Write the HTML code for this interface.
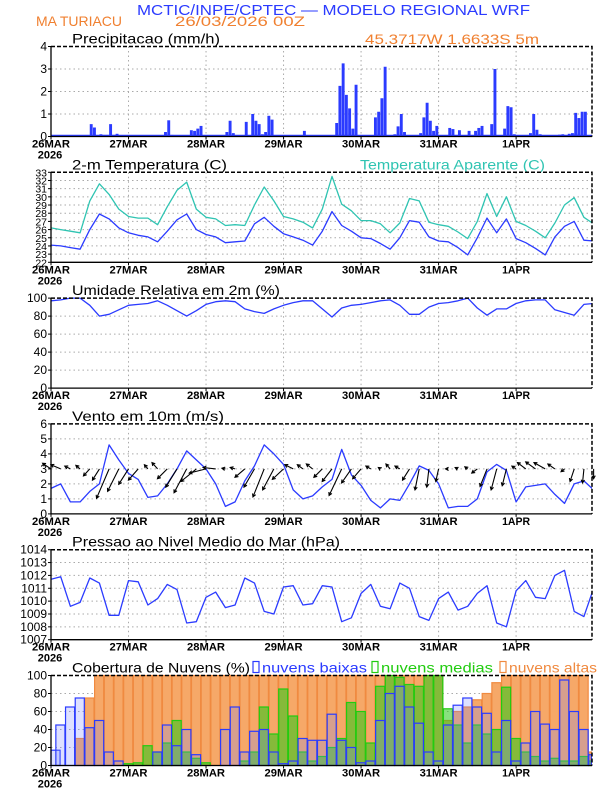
<!DOCTYPE html>
<html><head><meta charset="utf-8">
<style>
html,body{margin:0;padding:0;background:#fff;}
svg{display:block;font-family:"Liberation Sans",sans-serif;}
</style></head>
<body>
<svg id="chart" width="612" height="792" viewBox="0 0 612 792" xmlns="http://www.w3.org/2000/svg">
<text x="137" y="15" font-size="15" fill="#2b3bff" textLength="393" lengthAdjust="spacingAndGlyphs">MCTIC/INPE/CPTEC — MODELO REGIONAL WRF</text>
<text x="36" y="26" font-size="14" fill="#f08030" textLength="86" lengthAdjust="spacingAndGlyphs">MA TURIACU</text>
<text x="175" y="26" font-size="14" fill="#f08030" textLength="130" lengthAdjust="spacingAndGlyphs">26/03/2026 00Z</text>
<text x="365" y="44" font-size="14" fill="#f08030" textLength="174" lengthAdjust="spacingAndGlyphs">45.3717W 1.6633S 5m</text>
</svg>
<script>
const hours3 = [0,3,6,9,12,15,18,21,24,27,30,33,36,39,42,45,48,51,54,57,60,63,66,69,72,75,78,81,84,87,90,93,96,99,102,105,108,111,114,117,120,123,126,129,132,135,138,141,144,147,150,153,156,159,162,165,168];
const dayLabels = ["26MAR","27MAR","28MAR","29MAR","30MAR","31MAR","1APR"];
const precipHours = [12,13,15,16,17,18,19,20,21,35,36,37,39,43,44,45,46,54,55,56,60,61,62,63,64,65,66,67,68,78,80,83,88,89,90,91,92,93,94,100,101,102,103,104,106,107,108,109,112,114,115,116,117,118,119,123,124,126,129,131,132,133,134,136,137,140,141,142,143,148,149,150,151,155,157,158,160,161,162,162,163,164,165];
const precipValues = [0.55,0.4,0.1,0.07,0.07,0.55,0.07,0.12,0.05,0.2,0.72,0.07,0.05,0.28,0.25,0.35,0.47,0.2,0.7,0.15,0.65,0.05,1.0,0.7,0.55,0.1,0.2,0.92,0.75,0.25,0.05,0.05,0.6,2.25,3.25,1.85,1.25,0.35,2.3,0.85,1.1,1.7,3.1,0.05,0.1,0.45,1.0,0.2,0.05,0.15,0.85,1.5,0.7,0.25,0.47,0.38,0.33,0.28,0.25,0.25,0.38,0.47,0.05,0.55,3.0,0.35,1.35,1.3,0.1,0.15,1.0,0.3,0.1,0.05,0.08,0.1,0.12,0.15,0.13,1.05,0.82,1.1,1.1];
const tempApparent = [26.2,26.0,25.8,25.6,29.5,31.6,30.3,28.5,27.6,27.4,27.4,26.6,28.8,30.8,31.8,28.5,27.5,27.3,26.5,26.6,26.5,29.0,31.2,29.5,27.6,27.3,26.9,26.2,28.5,32.5,29.1,28.3,27.1,27.1,26.7,25.6,26.8,29.8,29.5,26.9,26.6,26.4,25.7,24.9,27.0,30.4,27.6,30.0,27.0,26.5,25.8,25.0,26.8,29.0,29.9,27.5,26.7];
const temp2m = [24.1,24.0,23.8,23.6,26.0,27.9,27.3,26.2,25.6,25.3,25.1,24.5,25.8,27.2,27.9,26.0,25.4,25.1,24.4,24.5,24.6,26.7,27.5,26.4,25.5,25.1,24.7,24.1,25.8,28.2,26.5,25.8,25.0,24.9,24.3,23.6,25.0,27.1,26.9,25.1,24.6,24.5,23.8,22.9,25.0,27.4,25.6,27.3,24.9,24.4,23.7,22.9,25.1,26.4,27.0,24.7,24.6];
const humidity = [97,98,100,100,92,80,82,87,92,93,94,97,92,86,80,86,93,96,97,96,88,85,83,88,92,95,97,97,88,79,89,92,93,95,97,98,92,82,82,90,94,95,97,100,89,81,88,88,94,97,98,98,87,84,81,93,94];
const windSpeed = [1.7,2.0,0.8,0.8,1.5,2.0,4.6,3.6,2.7,2.3,1.1,1.2,2.0,3.0,4.2,3.6,3.0,2.0,0.5,0.8,2.2,3.2,4.6,4.0,3.3,1.6,1.0,1.2,1.8,2.3,4.3,2.6,1.9,0.9,0.4,1.0,0.9,2.0,3.2,2.9,2.0,0.4,0.5,0.5,1.0,2.8,3.3,2.9,0.8,1.8,1.9,2.0,1.3,0.7,2.0,2.2,1.6];
const windU = [-1.2,-1.4,-0.8,-0.6,-0.9,-1.0,-1.8,-1.6,-1.4,-1.4,-0.5,-0.8,-1.4,-1.6,-1.8,-2.2,-2.4,-1.8,-0.5,-0.7,-1.4,-1.5,-1.6,-1.6,-1.6,-1.2,-0.8,-0.9,-1.2,-1.4,-1.8,-1.4,-1.2,-0.7,-0.3,-0.6,-0.7,-1.0,-0.6,-0.3,-0.4,-0.4,-0.4,-0.4,-0.8,-1.0,-0.8,-0.6,-0.6,-1.2,-1.4,-1.6,-1.0,-0.5,-0.6,-0.2,0];
const windV = [0.8,0.6,0.4,0.5,-1.0,-1.6,-4.2,-3.2,-2.2,-1.6,0.6,0.9,-1.4,-2.6,-3.4,-1.8,-0.6,0.2,0.1,0.2,-1.2,-2.6,-4.0,-3.0,-1.5,0.6,0.6,0.7,-1.2,-1.8,-3.8,-2.0,-1.4,0.4,0.2,0.7,0.4,-1.6,-3.0,-2.6,-1.8,0.0,0.2,0.3,-0.6,-2.5,-3.0,-2.4,0.4,0.9,1.0,0.9,0.7,-0.4,-1.8,-2.0,-1.4];
const pressure = [1011.7,1011.9,1009.6,1009.9,1011.8,1011.4,1008.9,1008.9,1011.6,1011.5,1009.7,1010.2,1011.3,1010.9,1008.3,1008.4,1010.3,1010.7,1009.5,1009.7,1011.8,1011.4,1009.2,1009.0,1011.1,1011.2,1009.7,1009.8,1011.2,1011.1,1008.4,1008.7,1010.6,1011.3,1009.6,1009.4,1011.4,1011.0,1008.8,1008.5,1010.2,1010.7,1009.3,1009.6,1010.6,1011.2,1008.3,1008.0,1010.8,1011.6,1010.3,1010.2,1012.0,1012.4,1009.2,1008.8,1011.0];
const cloudHigh = [0,0,0,30,75,100,100,100,100,100,100,100,100,100,100,100,100,100,100,100,100,100,100,100,100,100,100,100,100,100,100,100,100,100,100,100,100,100,100,100,100,50,60,65,73,80,92,100,100,100,100,100,100,100,100,100,15];
const cloudMid = [0,0,0,0,0,0,0,0,2,3,22,15,25,50,15,8,3,0,0,0,5,15,65,35,85,55,15,5,10,20,30,70,60,25,88,100,98,90,88,100,100,63,45,25,45,35,40,87,30,15,10,5,8,5,5,10,5];
const cloudLow = [17,45,65,75,42,50,15,5,0,0,0,15,45,22,40,12,0,0,40,65,15,38,40,15,2,5,30,28,28,57,28,20,3,5,50,80,88,65,47,15,5,45,67,75,65,58,15,50,5,25,60,46,40,95,60,40,12];
const precipTicks = [0,1,2,3,4];
const tempTicks = [22,23,24,25,26,27,28,29,30,31,32,33];
const humTicks = [0,20,40,60,80,100];
const windTicks = [0,1,2,3,4,5,6];
const presTicks = [1007,1008,1009,1010,1011,1012,1013,1014];
const cloudTicks = [0,20,40,60,80,100];

const NS = "http://www.w3.org/2000/svg";
const svg = document.getElementById('chart');
const X0 = 51, X1 = 592, HMAX = 167.5;
function xs(h){ return X0 + h*(X1-X0)/HMAX; }
function mk(tag, attrs, parent){
  const e = document.createElementNS(NS, tag);
  for (const k in attrs) e.setAttribute(k, attrs[k]);
  (parent||svg).appendChild(e);
  return e;
}
const BLUE = "#2b3bff", CYAN = "#2fc4b2";

function panel(i, name, title, titleLen, ticks, vmin, vmax){
  const top = 46.5 + i*125.8, bot = top + 90;
  const g = mk('g', {});
  
  
  const ys = v => bot - (v - vmin)/(vmax - vmin)*(bot - top);
  for (let d = 1; d < dayLabels.length; d++){
    const l = mk('line', {x1: xs(d*24), x2: xs(d*24), y1: top, y2: bot, stroke: '#aaa', 'stroke-dasharray': '1.5,3', 'stroke-width': 1}, g);
    
    
  }
  ticks.forEach((t, k) => {
    const y = ys(t);
    if (k > 0 && k < ticks.length - 1){
      const l = mk('line', {x1: X0, x2: X1, y1: y, y2: y, stroke: '#aaa', 'stroke-dasharray': '1.5,3', 'stroke-width': 1}, g);
      
      
    }
    const tk = mk('line', {x1: X0-3, x2: X0, y1: y, y2: y, stroke: '#000'}, g);
    
    
    const tx = mk('text', {x: X0-4, y: y+4, 'font-size': ticks.length > 10 ? 10.5 : 12, 'text-anchor': 'end', fill: '#000'}, g);
    tx.textContent = t;
    
    
  });
  dayLabels.forEach((lab, d) => {
    const tk = mk('line', {x1: xs(d*24), x2: xs(d*24), y1: bot, y2: bot+3, stroke: '#000'}, g);
    
    
    const tx = mk('text', {x: xs(d*24), y: bot+11, 'font-size': 11, 'font-weight': 'bold', 'text-anchor': 'middle', fill: '#000', 'textLength': lab.length > 4 ? 38 : 28, 'lengthAdjust': 'spacingAndGlyphs'}, g);
    tx.textContent = lab;
    
    
  });
  const yr = mk('text', {x: xs(0)-1, y: bot+22, 'font-size': 11, 'font-weight': 'bold', 'text-anchor': 'middle', fill: '#000'}, g);
  yr.textContent = '2026';
  
  
  const tt = mk('text', {x: 72, y: top-3, 'font-size': 14, fill: '#000', textLength: titleLen, lengthAdjust: 'spacingAndGlyphs'}, g);
  tt.textContent = title;
  
  
  const plot = mk('g', {}, g);
  
  
  return {g, plot, top, bot, ys};
}
function frame(p){
  const f = mk('path', {d: `M${X0},${p.top} V${p.bot} H${X1}`, stroke: '#000', fill: 'none', 'stroke-width': 1.3}, p.g);
  
  
  const f2 = mk('path', {d: `M${X0},${p.top} H${X1} V${p.bot}`, stroke: '#000', fill: 'none', 'stroke-width': 1.5, 'stroke-dasharray': '4,2'}, p.g);
  
  
}
function line(p, vals, color, name){
  const d = vals.map((v, k) => (k ? 'L' : 'M') + xs(hours3[k]).toFixed(1) + ',' + p.ys(v).toFixed(1)).join(' ');
  const e = mk('path', {d, stroke: color, fill: 'none', 'stroke-width': 1.3, 'clip-path': 'url(#clipx)', 'stroke-linejoin': 'round'}, p.plot);
  
  
}
const defs = mk('defs', {});
const cp = mk('clipPath', {id: 'clipx'}, defs);
mk('rect', {x: X0, y: 0, width: X1-X0, height: 792}, cp);

const p0 = panel(0, 'precipitation', 'Precipitacao (mm/h)', 148, precipTicks, 0, 4);
const bw = (X1-X0)/HMAX;
precipHours.forEach((h, k) => {
  const v = precipValues[k];
  const r = mk('rect', {x: xs(h), y: p0.ys(v), width: bw*0.9, height: p0.bot - p0.ys(v), fill: BLUE}, p0.plot);
  
  
});
mk('line', {x1: X0, x2: X1, y1: p0.bot-1, y2: p0.bot-1, stroke: BLUE, 'stroke-width': 1.5}, p0.plot);
frame(p0);

const p1 = panel(1, 'temperature', '2-m Temperatura (C)', 155, tempTicks, 22, 33);
line(p1, tempApparent, CYAN, 'apparent-temperature-line');
line(p1, temp2m, BLUE, 'temperature-line');
const ta = mk('text', {x: 360, y: p1.top-3, 'font-size': 14, fill: CYAN, textLength: 185, lengthAdjust: 'spacingAndGlyphs'}, p1.g);
ta.textContent = 'Temperatura Aparente (C)';


frame(p1);

const p2 = panel(2, 'humidity', 'Umidade Relativa em 2m (%)', 208, humTicks, 0, 100);
line(p2, humidity, BLUE, 'humidity-line');
frame(p2);

const p3 = panel(3, 'wind', 'Vento em 10m (m/s)', 152, windTicks, 0, 6);
line(p3, windSpeed, BLUE, 'wind-speed-line');
const base = p3.ys(3), sc = 7;
hours3.forEach((h, k) => {
  const x0 = xs(h), x1 = x0 + windU[k]*sc, y1 = base - windV[k]*sc;
  const ang = Math.atan2(y1 - base, x1 - x0);
  const hl = 3.5;
  const d = `M${x0},${base} L${x1},${y1} M${x1 - hl*Math.cos(ang-0.5)},${y1 - hl*Math.sin(ang-0.5)} L${x1},${y1} L${x1 - hl*Math.cos(ang+0.5)},${y1 - hl*Math.sin(ang+0.5)}`;
  const a = mk('path', {d, stroke: '#000', fill: 'none', 'stroke-width': 1.1}, p3.plot);
  
  
});
frame(p3);

const p4 = panel(4, 'pressure', 'Pressao ao Nivel Medio do Mar (hPa)', 268, presTicks, 1007, 1014);
line(p4, pressure, BLUE, 'pressure-line');
frame(p4);

const p5 = panel(5, 'clouds', 'Cobertura de Nuvens (%)', 178, cloudTicks, 0, 100);
const cw = 3*bw;
function cloudBars(vals, fill, stroke, name){
  vals.forEach((v, k) => {
    if (v <= 0) return;
    const x = xs(hours3[k]) - cw/2;
    const r = mk('rect', {x: Math.max(X0, x), y: p5.ys(v), width: Math.min(cw, X1 - Math.max(X0, x)) - 0.6, height: p5.bot - p5.ys(v), fill, stroke, 'stroke-width': 1.2}, p5.plot);
    
    
  });
}
cloudBars(cloudHigh, '#f6a868', '#f08a40', 'high-cloud-bar');
cloudBars(cloudMid, 'rgba(40,200,20,0.55)', '#22cc10', 'mid-cloud-bar');
cloudBars(cloudLow, 'rgba(120,130,255,0.25)', '#2b3bff', 'low-cloud-bar');
frame(p5);
const legend = [[253, BLUE, 'nuvens baixas', 'low', 105], [372, '#22cc10', 'nuvens medias', 'mid', 112], [500, '#f08a40', 'nuvens altas', 'high', 88]];
legend.forEach(([x, c, t, n, len]) => {
  const b = mk('rect', {x: x, y: p5.top-14, width: 6, height: 11, fill: 'none', stroke: c, 'stroke-width': 1.2}, p5.g);
  
  
  const tx = mk('text', {x: x+9, y: p5.top-3, 'font-size': 14, fill: c, textLength: len, lengthAdjust: 'spacingAndGlyphs'}, p5.g);
  tx.textContent = t;
  
  
});
</script>
</body></html>
